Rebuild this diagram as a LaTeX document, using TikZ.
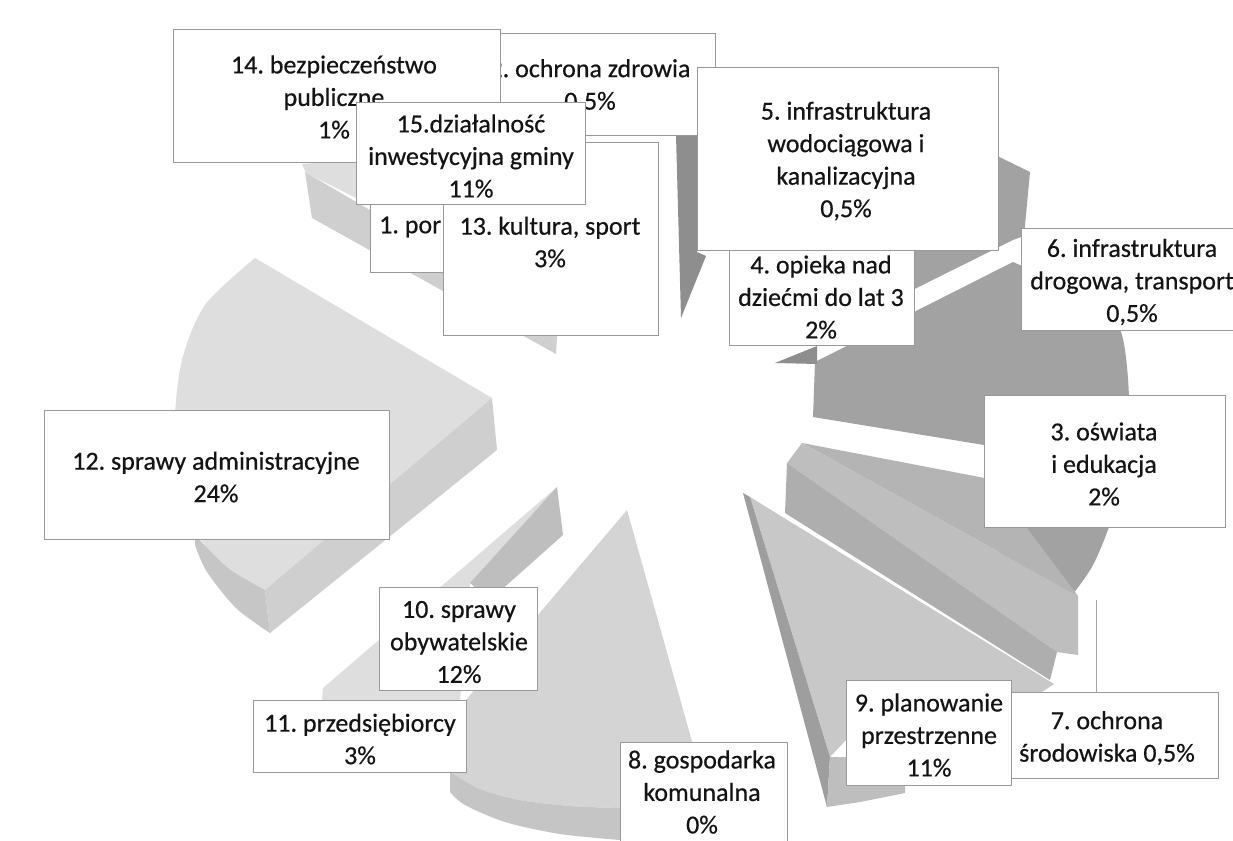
\documentclass[tikz,border=0pt]{standalone}
\usepackage{fontspec}
\setmainfont{Carlito}
\newfontfamily\scanfont{Carlito}[FakeBold=0.5]
\definecolor{ctop}{HTML}{DEDEDE}
\definecolor{cside}{HTML}{CFCFCF}
\definecolor{carc}{HTML}{C6C6C6}
\definecolor{dark}{HTML}{A2A2A2}
\definecolor{darker}{HTML}{8E8E8E}
\definecolor{medA}{HTML}{B4B4B4}
\definecolor{medB}{HTML}{BEBEBE}
\definecolor{medC}{HTML}{AEAEAE}
\definecolor{nine}{HTML}{C8C8C8}
\definecolor{nineside}{HTML}{9E9E9E}
\definecolor{eight}{HTML}{D4D4D4}
\definecolor{eightside}{HTML}{C5C5C5}
\newcommand\mybox[5]{\node[lbl,minimum width={#3-#1},minimum height={#4-#2}] (#5) at ({(#1+#3)/2},{(#2+#4)/2}) {};}
\frenchspacing
\begin{document}
\begin{tikzpicture}[x=1pt,y=-1pt,
  lbl/.style={draw=black!40, line width=0.9pt, fill=white, inner sep=0pt, outer sep=0pt},
  txt/.style={align=center, inner sep=0pt, font=\scanfont\fontsize{26}{32.5}\selectfont, text=black!92},
  leader/.style={draw=black!35, line width=0.8pt}]
\useasboundingbox (0,0) rectangle (1233,840);
\fill[white] (0,0) rectangle (1233,840);

% ---- slice 12 (left, large)
\fill[ctop] (255,258) -- (492,398) -- (265,590) -- plot[smooth] coordinates {(265,590) (228,568) (198,535) (180,480) (175,420) (182,360) (205,305) (255,258)} -- cycle;
\fill[carc] plot[smooth] coordinates {(195,535) (228,568) (265,590)} -- (270,633) -- plot[smooth] coordinates {(270,633) (236,608) (207,572) (195,545)} -- cycle;
\fill[cside] (492,398) -- (497,450) -- (270,633) -- (265,590) -- cycle;

% ---- top-left strip (behind boxes 14, 15, 1, 13)
\fill[cside] (305,172) -- (558,320) -- (556,354) -- (312,218) -- cycle;
\fill[ctop] (302,164) -- (360,160) -- (360,200) -- (306,173) -- cycle;

% ---- dark strip right of box 13
\fill[darker] (676,135) -- (697,135) -- (697,252) -- (706,256) -- (681,318) -- cycle;

% ---- dark slices on the right
\fill[dark] (822,335) -- (985,150) -- (1030,172) -- (1024,236) -- (1013,240) -- cycle;
\fill[dark] (815,362) -- (1013,262) -- (1100,300) -- plot[smooth] coordinates {(1100,300) (1122,335) (1129,400) (1124,465) (1112,518) (1093,565) (1070,598)} -- (1000,556) -- (984,445) -- (813,417) -- cycle;
\fill[darker] (775,363) -- (817,346) -- (817,364) -- cycle;

% ---- medium bands
\fill[medA] (802,443) -- (990,479) -- (1078,596) -- cycle;
\fill[medB] (802,443) -- (1078,596) -- (1078,655) -- (1057,652) -- (787,463) -- cycle;
\fill[medC] (787,463) -- (1057,652) -- (1050,680) -- (785,513) -- cycle;

% ---- slice 9
\fill[nine] (750,497) -- (1054,684) -- (1030,700) -- (846,740) -- (830,757) -- cycle;
\fill[nineside] (743,493) -- (750,497) -- (830,757) -- (827,807) -- cycle;
\fill[medB] (830,757) -- (905,757) -- (905,793) -- (860,802) -- (827,807) -- cycle;

% ---- slice 8
\fill[eight] (627,510) -- (700,770) -- (690,800) -- plot[smooth] coordinates {(620,808) (570,806) (520,800) (480,789) (450,772)} -- (440,720) -- (460,707) -- cycle;
\fill[eightside] plot[smooth] coordinates {(450,772) (480,789) (520,800) (570,806) (620,808)} -- (620,840) -- plot[smooth] coordinates {(620,840) (560,834) (505,822) (465,805) (450,792)} -- cycle;

% ---- slice 10
\fill[ctop] (557,487) -- (323,688) -- (322,701) -- (460,701) -- (470,583) -- cycle;
\fill[medB] (557,487) -- (563,535) -- (490,600) -- (470,583) -- cycle;

% ---- label boxes
\mybox{457}{33}{715}{135}{b2}
\node[txt] (t2) at (590,86) {2. ochrona zdrowia\\0,5\%};
\mybox{173}{29}{500}{162}{b14}
\node[txt] (t14) at (334,97) {14. bezpieczeństwo\\publiczne\\1\%};
\mybox{370}{200}{460}{272}{b1}
\node[txt,anchor=west] (t1) at (379,227) {1. por};
\mybox{443}{142}{658}{335}{b13}
\node[txt] (t13) at (550,242) {13. kultura, sport\\3\%};
\mybox{356}{102}{585}{204}{b15}
\node[txt] (t15) at (471,156) {15.działalność\\inwestycyjna gminy\\11\%};
\mybox{729}{240}{914}{345}{b4}
\node[txt] (t4) at (821,297) {4. opieka nad\\dziećmi do lat 3\\2\%};
\mybox{697}{67}{998}{250}{b5}
\node[txt] (t5) at (846,161) {5. infrastruktura\\wodociągowa i\\kanalizacyjna\\0,5\%};
\mybox{1021}{228}{1245}{330}{b6}
\node[txt] (t6) at (1132,282) {6. infrastruktura\\drogowa, transport\\0,5\%};
\mybox{984}{395}{1225}{527}{b3}
\node[txt] (t3) at (1104,464) {3. oświata\\i edukacja\\2\%};
\mybox{44}{410}{389}{539}{b12}
\node[txt] (t12) at (216,477) {12. sprawy administracyjne\\24\%};
\mybox{379}{587}{537}{690}{b10}
\node[txt] (t10) at (459,642) {10. sprawy\\obywatelskie\\12\%};
\mybox{253}{700}{466}{772}{b11}
\node[txt] (t11) at (360,739) {11. przedsiębiorcy\\3\%};
\mybox{620}{742}{787}{850}{b8}
\node[txt] (t8) at (702,792) {8. gospodarka\\komunalna\\0\%};
\coordinate (l7) at (1096,600);
\mybox{1011}{692}{1218}{778}{b7}
\draw[leader] (l7) -- (l7 |- b7.north);
\node[txt] (t7) at (1107,738) {7. ochrona\\środowiska 0,5\%};
\mybox{846}{680}{1011}{785}{b9}
\node[txt] (t9) at (929,735) {9. planowanie\\przestrzenne\\11\%};
\end{tikzpicture}
\end{document}
